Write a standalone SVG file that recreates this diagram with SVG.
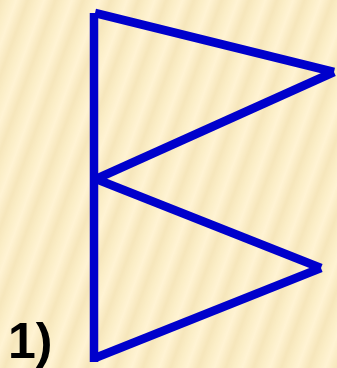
<svg xmlns="http://www.w3.org/2000/svg" width="337" height="368" viewBox="0 0 337 368">
  <defs>
    <linearGradient id="soft" x1="0" y1="0" x2="1" y2="0">
      <stop offset="0" stop-color="#f6e6bb"/>
      <stop offset="0.3" stop-color="#fbeec7"/>
      <stop offset="0.6" stop-color="#fff3d3"/>
      <stop offset="1" stop-color="#f6e6bb"/>
    </linearGradient>
    <pattern id="stripes" x="0" y="0" width="26" height="26" patternUnits="userSpaceOnUse" patternTransform="rotate(20)">
      <rect x="0" y="0" width="26" height="26" fill="url(#soft)"/>
    </pattern>
    <style>
      .edge { stroke: #0000cc; stroke-width: 8.5; fill: none; stroke-linecap: butt; }
      .lbl { font-family: "Liberation Sans", Arial, sans-serif; font-weight: bold; fill: #000000; }
    </style>
  </defs>
  <rect x="0" y="0" width="337" height="368" fill="url(#stripes)"/>
  <g id="connectors">
    <line class="edge" x1="94" y1="13" x2="94" y2="362"/>
    <line class="edge" x1="95" y1="13" x2="334" y2="72"/>
    <line class="edge" x1="334" y1="72" x2="96" y2="179"/>
    <line class="edge" x1="96" y1="179" x2="321" y2="268"/>
    <line class="edge" x1="321" y1="268" x2="95" y2="358"/>
  </g>
  <g id="label">
    <text class="lbl" x="8" y="358" font-size="50">1)</text>
  </g>
</svg>
